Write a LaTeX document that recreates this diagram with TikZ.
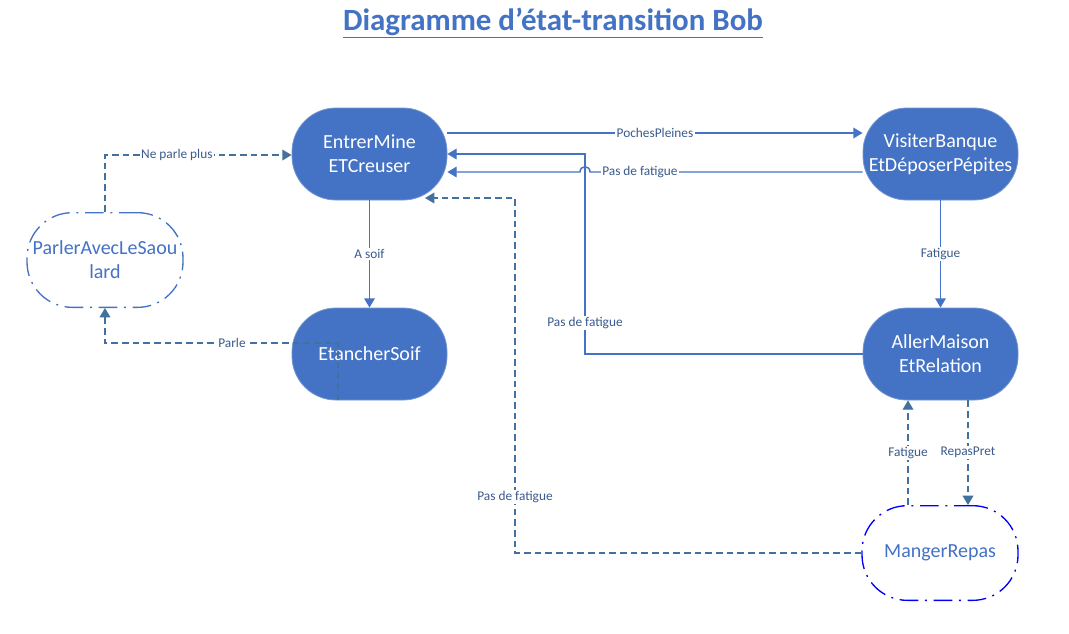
\documentclass[tikz,border=0pt]{standalone}
\usepackage{fontspec}
\setmainfont{Carlito}
\usetikzlibrary{arrows.meta}
\definecolor{nodeblue}{HTML}{4472C4}
\definecolor{dashblue}{HTML}{41719C}
\definecolor{lblcol}{HTML}{3A5A8C}
\definecolor{pureblue}{HTML}{0000FF}
\begin{document}
\begin{tikzpicture}[x=0.75pt,y=-0.75pt,
 state/.style={draw=nodeblue!75!white, line width=0.6pt, fill=nodeblue, text=white,
   rounded corners=33pt, minimum width=116.25pt, minimum height=69pt, align=center,
   font=\fontsize{15}{18}\selectfont, inner sep=0pt},
 ghost/.style={rounded corners=34pt, minimum width=117pt, minimum height=71pt, align=center,
   font=\fontsize{15}{18}\selectfont, text=nodeblue, line width=1pt, inner sep=0pt,
   dash pattern=on 14pt off 5pt on 1.5pt off 5pt},
 tip/.style={-{Triangle[length=7pt,width=8pt]}},
 solidarrow/.style={draw=nodeblue, line width=1.1pt, tip},
 dasharrow/.style={draw=dashblue, line width=1.1pt, dash pattern=on 5pt off 3pt, tip},
 lbl/.style={fill=white, inner sep=1pt, text=lblcol, font=\fontsize{10}{12}\selectfont}]
\useasboundingbox (0,0) rectangle (1069,633);
\fill[white] (0,0) rectangle (1069,633);

\node[text=nodeblue, font=\fontsize{23.2}{27}\selectfont\bfseries] (T) at (553,23)
  {\underline{Diagramme d’état-transition Bob}};

\node[state] (E) at (369.5,154) {EntrerMine\\ETCreuser};
\node[state] (S) at (369.5,354) {EtancherSoif};
\node[state] (V) at (940.5,154) {VisiterBanque\\EtDéposerPépites};
\node[state] (A) at (940.5,354) {AllerMaison\\EtRelation};
\node[ghost, draw=nodeblue] (P) at (105,260) {ParlerAvecLeSaou\\lard};
\node[ghost, draw=pureblue] (M) at (940,553) {MangerRepas};
\coordinate (Ein) at (425,198);

\draw[solidarrow] (E.east |- 0,133) -- node[lbl]{PochesPleines} (V.west |- 0,133);
\draw[solidarrow] (V.west |- 0,172) -- node[lbl,pos=0.817]{Pas de fatigue} (590,172)
  .. controls (590,165) and (580,165) .. (580,172) -- (E.east |- 0,172);
\draw[solidarrow] (A.west) -- (585,354) -- node[lbl,pos=0.155]{Pas de fatigue} (585,154) -- (E.east |- 0,154);
\draw[solidarrow] (V.south) -- node[lbl]{Fatigue} (A.north);
\draw[solidarrow] (E.south) -- node[lbl]{A soif} (S.north);

\draw[dasharrow] (S.south -| 338,0) -- (338,343) -- node[lbl,pos=0.455]{Parle} (105,343) -- (P.south);
\draw[dasharrow] (P.north) -- (105,155) -- node[lbl,pos=0.385]{Ne parle plus} (E.west |- 0,155);
\draw[dasharrow] (M.west) -- (515,553) -- node[lbl,pos=0.158]{Pas de fatigue} (515,198) -- (Ein);
\draw[dasharrow] (M.north -| 908,0) -- node[lbl]{Fatigue} (A.south -| 908,0);
\draw[dasharrow] (A.south -| 968,0) -- node[lbl]{RepasPret} (M.north -| 968,0);
\end{tikzpicture}
\end{document}
